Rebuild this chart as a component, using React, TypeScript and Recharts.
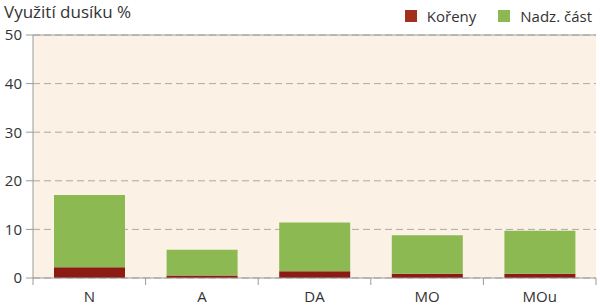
import React from 'react';
import {
  BarChart,
  Bar,
  XAxis,
  YAxis,
  CartesianGrid,
  ReferenceLine,
} from 'recharts';

const varianty = ['N', 'A', 'DA', 'MO', 'MOu'];
const koreny = [2.2, 0.5, 1.4, 0.9, 0.9];
const nadzemni = [14.9, 5.3, 10.0, 7.9, 8.8];
const yTicks = [0, 10, 20, 30, 40, 50];

const data = varianty.map((v, i) => ({
  varianta: v,
  koreny: koreny[i],
  nadzemni: nadzemni[i],
}));

const CERVENA = '#8c1c13';
const ZELENA = '#8db953';
const SEDA = '#9a9a9a';
const PISMO = '"Open Sans", "Noto Sans", sans-serif';

const PLOT_LEFT = 33;
const PLOT_RIGHT = 596;
const BAND = (PLOT_RIGHT - PLOT_LEFT) / varianty.length;

const XTick = ({ x, y, payload, index }: any) => {
  const left = x - BAND / 2;
  return (
    <g>
      <line x1={left} y1={y - 8} x2={left} y2={y - 1} stroke={SEDA} strokeWidth={1} />
      {index === varianty.length - 1 && (
        <line x1={x + BAND / 2} y1={y - 8} x2={x + BAND / 2} y2={y - 1} stroke={SEDA} strokeWidth={1} />
      )}
      <text x={x} y={y + 16} textAnchor="middle" fill="#333" fontSize={15} fontFamily={PISMO}>
        {payload.value}
      </text>
    </g>
  );
};

const Legenda = () => (
  <div
    style={{
      position: 'absolute',
      right: 8,
      top: 6,
      display: 'flex',
      alignItems: 'center',
      fontFamily: PISMO,
      fontSize: 15,
      color: '#333',
    }}
  >
    <span style={{ width: 12, height: 12, background: '#a3301f', display: 'inline-block', marginRight: 10 }} />
    <span style={{ marginRight: 22 }}>Kořeny</span>
    <span style={{ width: 12, height: 12, background: ZELENA, display: 'inline-block', marginRight: 10 }} />
    <span>Nadz. část</span>
  </div>
);

export default function App() {
  return (
    <div style={{ position: 'absolute', left: 0, top: 0, width: 600, height: 308, background: '#fff' }}>
      <div
        style={{
          position: 'absolute',
          left: 4,
          top: 0,
          fontFamily: PISMO,
          fontSize: 17,
          color: '#333',
        }}
      >
        Využití dusíku %
      </div>
      <Legenda />
      <BarChart
        width={600}
        height={308}
        data={data}
        margin={{ top: 35, right: 4, left: 5, bottom: 0 }}
        barSize={71}
      >
        <CartesianGrid
          vertical={false}
          stroke="#aaa"
          strokeDasharray="7 4"
          fill="#fcf1e5"
          fillOpacity={1}
        />
        <XAxis
          dataKey="varianta"
          height={30}
          axisLine={{ stroke: SEDA }}
          tickLine={false}
          tick={<XTick />}
          interval={0}
        />
        <YAxis
          width={28}
          domain={[0, 50]}
          ticks={yTicks}
          axisLine={{ stroke: SEDA }}
          tickLine={{ stroke: SEDA }}
          tickSize={7}
          tickMargin={4}
          tick={{ fill: '#333', fontSize: 15, fontFamily: PISMO }}
        />
        <YAxis
          yAxisId="prava"
          orientation="right"
          width={0}
          domain={[0, 50]}
          tick={false}
          tickLine={false}
          axisLine={{ stroke: SEDA }}
        />
        <ReferenceLine y={50} stroke={SEDA} strokeWidth={1} />
        <Bar dataKey="koreny" stackId="a" fill={CERVENA} name="Kořeny" isAnimationActive={false} />
        <Bar dataKey="nadzemni" stackId="a" fill={ZELENA} name="Nadz. část" isAnimationActive={false} />
      </BarChart>
    </div>
  );
}
